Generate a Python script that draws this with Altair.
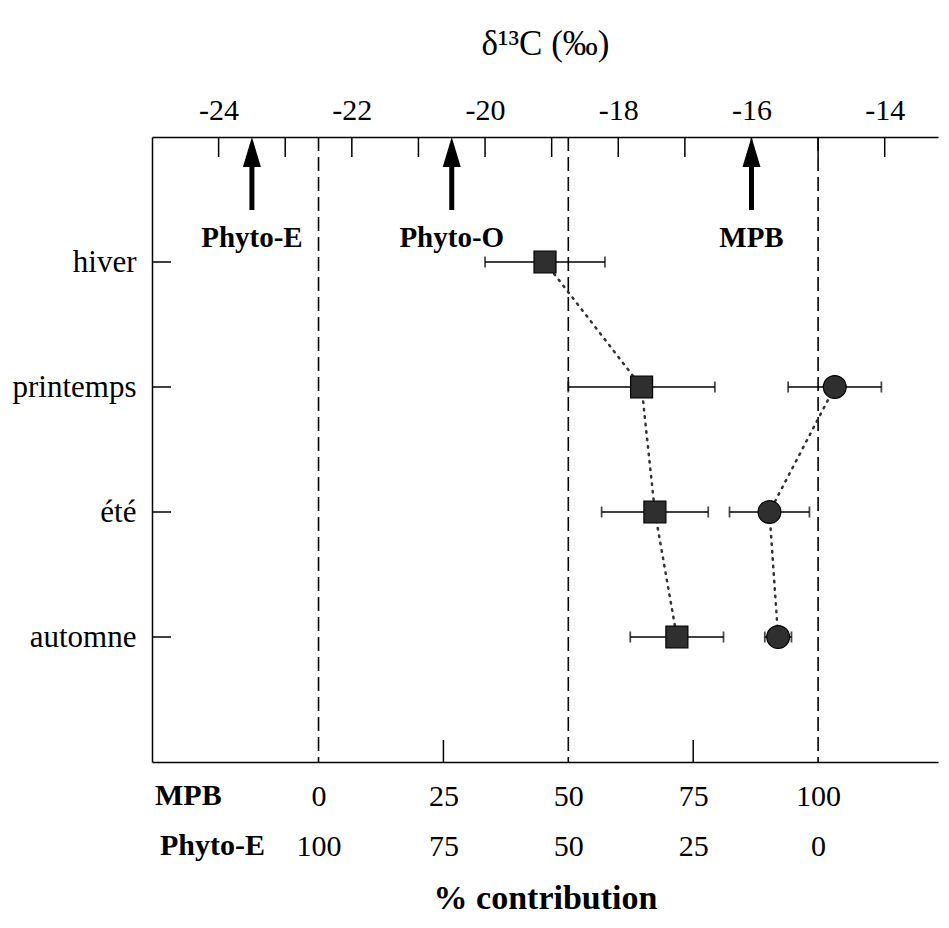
import altair as alt
import pandas as pd

# ---------------- data ----------------
seasons = ["hiver", "printemps", "été", "automne"]
season_pos = [1, 2, 3, 4]

sq_seasons = ["hiver", "printemps", "été", "automne"]
sq_mean = [-19.1, -17.65, -17.45, -17.12]
sq_sd = [0.9, 1.1, 0.8, 0.7]

ci_seasons = ["printemps", "été", "automne"]
ci_mean = [-14.75, -15.73, -15.6]
ci_sd = [0.7, 0.6, 0.2]

sources = ["Phyto-E", "Phyto-O", "MPB"]
source_d13c = [-23.5, -20.5, -16.0]

phyto_end = -22.5   # 0 % MPB / 100 % Phyto-E
mpb_end = -15.0     # 100 % MPB / 0 % Phyto-E
pct_labels = [0, 25, 50, 75, 100]
pct_dashed = [0, 50, 100]
pct_ticks = [25, 75]
d13c_ticks = [-24, -23, -22, -21, -20, -19, -18, -17, -16, -15, -14]
d13c_labels = [-24, -22, -20, -18, -16, -14]

X_DOMAIN = [-25, -13.2]
Y_DOMAIN = [0, 5]
W, H = 786, 625
FONT = "Liberation Serif"

pos = dict(zip(seasons, season_pos))
sq = pd.DataFrame({"season": sq_seasons, "mean": sq_mean, "sd": sq_sd})
sq["yi"] = sq["season"].map(pos)
ci = pd.DataFrame({"season": ci_seasons, "mean": ci_mean, "sd": ci_sd})
ci["yi"] = ci["season"].map(pos)
src = pd.DataFrame({"source": sources, "d13c": source_d13c})
dash_df = pd.DataFrame({"pct": pct_dashed})
ptick_df = pd.DataFrame({"pct": pct_ticks})
ttick_df = pd.DataFrame({"d13c": d13c_ticks})
ltick_df = pd.DataFrame({"yi": season_pos})

to_delta = f"{phyto_end} + datum.pct * ({mpb_end} - ({phyto_end})) / 100"
bottom_vals = [phyto_end + p * (mpb_end - phyto_end) / 100 for p in pct_labels]
pct_expr = f"round((datum.value - ({phyto_end})) / ({mpb_end} - ({phyto_end})) * 100)"

xscale = alt.Scale(domain=X_DOMAIN, nice=False, zero=False)
yscale = alt.Scale(domain=Y_DOMAIN, reverse=True, nice=False, zero=False)

yaxis = alt.Axis(
    orient="left", values=season_pos,
    labelExpr="['', 'hiver', 'printemps', 'été', 'automne', ''][datum.value]",
    ticks=False, grid=False, domain=True, domainColor="black", domainWidth=1.5,
    labelFont=FONT, labelFontSize=31, labelColor="black", labelPadding=16, title=None,
)
Y = alt.Y("yi:Q", scale=yscale, axis=yaxis)

top_axis = alt.Axis(
    orient="top", values=d13c_labels, ticks=False, grid=False,
    labelExpr="datum.value < 0 ? '-' + abs(datum.value) : '' + datum.value",
    domain=True, domainColor="black", domainWidth=1.5,
    labelFont=FONT, labelFontSize=30, labelColor="black", labelPadding=12,
    title="δ¹³C (‰)", titleFont=FONT, titleFontSize=35, titleFontWeight="normal",
    titleColor="black", titlePadding=34,
)
bottom_axis = alt.Axis(
    orient="bottom", values=bottom_vals, ticks=False, grid=False,
    domain=True, domainColor="black", domainWidth=1.5,
    labelExpr=f"[format({pct_expr}, 'd'), format(100 - {pct_expr}, 'd')]",
    labelFont=FONT, labelFontSize=30, labelColor="black", labelPadding=19,
    labelLineHeight=50, labelOverlap=False, labelFlush=False,
    title="% contribution", titleFont=FONT, titleFontSize=34, titleFontWeight="bold",
    titleColor="black", titlePadding=20,
)

# dashed mixing lines (0, 50, 100 % MPB) + bottom axis
dashed = alt.Chart(dash_df).transform_calculate(d=to_delta).mark_rule(
    strokeDash=[14, 6], strokeWidth=1.6, color="black"
).encode(
    x=alt.X("d:Q", scale=xscale, axis=bottom_axis),
    y=alt.value(0), y2=alt.value(H),
)

# inward ticks
top_ticks = alt.Chart(ttick_df).mark_rule(strokeWidth=1.5, color="black").encode(
    x=alt.X("d13c:Q", scale=xscale, axis=top_axis),
    y=alt.value(0), y2=alt.value(20),
)
bot_ticks = alt.Chart(ptick_df).transform_calculate(d=to_delta).mark_rule(
    strokeWidth=1.5, color="black"
).encode(
    x=alt.X("d:Q", scale=xscale, axis=None),
    y=alt.value(H), y2=alt.value(H - 22),
)
left_ticks = alt.Chart(ltick_df).mark_rule(strokeWidth=1.5, color="black").encode(
    y=Y, x=alt.value(0), x2=alt.value(19),
)

def series(df, shape, size):
    base = alt.Chart(df).transform_calculate(
        lo="datum.mean - datum.sd", hi="datum.mean + datum.sd"
    )
    line = base.mark_line(
        strokeDash=[1.5, 6], strokeWidth=2.5, color="#333333", strokeCap="round"
    ).encode(
        x=alt.X("mean:Q", scale=xscale, axis=None), y=Y, order="yi:Q"
    )
    err = base.mark_rule(strokeWidth=1.6, color="black").encode(
        x=alt.X("lo:Q", scale=xscale, axis=None), x2="hi:Q", y=Y
    )
    cap_lo = base.mark_tick(orient="vertical", size=11, thickness=1.8, color="black").encode(
        x=alt.X("lo:Q", scale=xscale, axis=None), y=Y
    )
    cap_hi = base.mark_tick(orient="vertical", size=11, thickness=1.8, color="black").encode(
        x=alt.X("hi:Q", scale=xscale, axis=None), y=Y
    )
    pts = base.mark_point(
        shape=shape, filled=True, size=size, fill="#2f2f2f", stroke="black",
        strokeWidth=1.2, opacity=1,
    ).encode(x=alt.X("mean:Q", scale=xscale, axis=None), y=Y)
    return [line, err, cap_lo, cap_hi, pts]

squares = series(sq, "square", 484)
circles = series(ci, "circle", 520)

# source arrows
shaft = alt.Chart(src).mark_rule(strokeWidth=5, color="black").encode(
    x=alt.X("d13c:Q", scale=xscale, axis=None), y=alt.value(24), y2=alt.value(73)
)
head = alt.Chart(src).mark_point(
    shape="M -0.6 1 L 0 -1 L 0.6 1 Z", filled=True, size=900, color="black", opacity=1
).encode(x=alt.X("d13c:Q", scale=xscale, axis=None), y=alt.value(15))
src_text = alt.Chart(src).mark_text(
    font=FONT, fontSize=29, fontWeight="bold", color="black",
    align="center", baseline="alphabetic",
).encode(
    x=alt.X("d13c:Q", scale=xscale, axis=None), y=alt.value(110), text="source:N"
)

# row labels of the bottom scale
row1 = alt.Chart(pd.DataFrame({"t": ["MPB"]})).mark_text(
    font=FONT, fontSize=30, fontWeight="bold", color="black", align="left",
    baseline="alphabetic",
).encode(x=alt.value(3), y=alt.value(H + 43), text="t:N")
row2 = alt.Chart(pd.DataFrame({"t": ["Phyto-E"]})).mark_text(
    font=FONT, fontSize=30, fontWeight="bold", color="black", align="left",
    baseline="alphabetic",
).encode(x=alt.value(8), y=alt.value(H + 93), text="t:N")

chart = alt.layer(
    dashed, top_ticks, bot_ticks, left_ticks,
    *squares, *circles, shaft, head, src_text, row1, row2,
).resolve_axis(x="independent").properties(
    width=W, height=H,
    autosize=alt.AutoSizeParams(type="none"),
    padding={"left": 144, "top": 129, "right": 3, "bottom": 158},
    background="white",
).configure_view(strokeWidth=0)

chart.save("out.html", embed_options={"renderer": "svg", "actions": False})
